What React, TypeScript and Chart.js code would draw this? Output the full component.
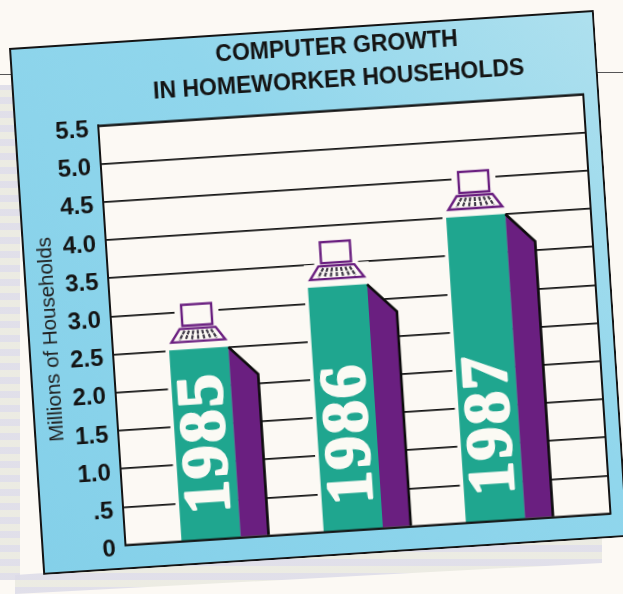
import React, { useEffect, useRef } from "react";
import { Chart, registerables } from "chart.js";

Chart.register(...registerables);

const categories = ["1985", "1986", "1987"];
const households = [2.5, 3.2, 4.0];
const titleLines = ["COMPUTER GROWTH", "IN HOMEWORKER HOUSEHOLDS"];
const yAxisTitle = "Millions of Households";

const TEAL = "#1fa68f";
const PURPLE = "#6a1f80";
const INK = "#141414";
const PAPER = "#fcf9f4";

const barDecor = {
  id: "barDecor",
  beforeDraw(chart: any) {
    const { ctx, width, height, chartArea: a } = chart;
    ctx.save();
    const g = ctx.createLinearGradient(0, height, width, 0);
    g.addColorStop(0, "#84d0e9");
    g.addColorStop(0.6, "#90d6ec");
    g.addColorStop(1, "#aee0ee");
    ctx.fillStyle = g;
    ctx.fillRect(0, 0, width, height);
    ctx.strokeStyle = INK;
    ctx.lineWidth = 2;
    ctx.strokeRect(1, 1, width - 2, height - 2);
    ctx.fillStyle = PAPER;
    ctx.fillRect(a.left, a.top, a.width, a.height);
    ctx.restore();
  },
  beforeDatasetsDraw(chart: any) {
    const { ctx } = chart;
    const bars = chart.getDatasetMeta(0).data;
    ctx.save();
    ctx.fillStyle = PAPER;
    bars.forEach((b: any) => {
      const w = b.width;
      const l = b.x - w / 2;
      ctx.fillRect(l - 4, b.y - 9, w + 4, b.base - b.y + 8);
      ctx.fillRect(l - 3, b.y - 23, w + 6, 16);
      ctx.fillRect(b.x - 22, b.y - 48, 44, 27);
    });
    ctx.restore();
  },
  afterDatasetsDraw(chart: any) {
    const { ctx, chartArea: a } = chart;
    const bars = chart.getDatasetMeta(0).data;
    ctx.save();
    bars.forEach((b: any, i: number) => {
      const w = b.width;
      const r = b.x + w / 2;
      const depth = 28;
      // side face
      ctx.beginPath();
      ctx.moveTo(r, b.y);
      ctx.lineTo(r + depth, b.y + 29);
      ctx.lineTo(r + depth, b.base);
      ctx.lineTo(r, b.base);
      ctx.closePath();
      ctx.fillStyle = PURPLE;
      ctx.fill();
      ctx.beginPath();
      ctx.moveTo(r, b.y);
      ctx.lineTo(r + depth, b.y + 29);
      ctx.lineTo(r + depth, b.base);
      ctx.strokeStyle = "#0c0c0c";
      ctx.lineWidth = 2.6;
      ctx.stroke();

      // computer above the bar
      const cx = b.x;
      const kb = b.y - 8;
      ctx.strokeStyle = PURPLE;
      ctx.lineWidth = 2.4;
      ctx.strokeRect(cx - 15, kb - 37, 30, 21);
      ctx.beginPath();
      ctx.moveTo(cx - 18, kb - 13);
      ctx.lineTo(cx + 18, kb - 13);
      ctx.lineTo(cx + 27, kb);
      ctx.lineTo(cx - 27, kb);
      ctx.closePath();
      ctx.stroke();
      ctx.strokeStyle = "#403a48";
      ctx.lineWidth = 2.2;
      ctx.setLineDash([4, 1]);
      for (let k = -3; k <= 3; k++) {
        ctx.beginPath();
        ctx.moveTo(cx + k * 4.4, kb - 11);
        ctx.lineTo(cx + k * 6.2, kb - 2);
        ctx.stroke();
      }
      ctx.setLineDash([]);

      // year label
      ctx.save();
      ctx.translate(b.x + 1, b.base - 25);
      ctx.rotate(-Math.PI / 2);
      ctx.fillStyle = "#fbfaf4";
      ctx.strokeStyle = "#fbfaf4";
      ctx.lineWidth = 2.5;
      ctx.lineJoin = "round";
      ctx.font = 'bold 66px "Liberation Serif"';
      (ctx as any).letterSpacing = "2.5px";
      ctx.textAlign = "left";
      ctx.textBaseline = "middle";
      ctx.fillText(categories[i], 0, 2);
      ctx.strokeText(categories[i], 0, 2);
      ctx.restore();
    });
    ctx.strokeStyle = INK;
    ctx.lineWidth = 2;
    ctx.strokeRect(a.left, a.top, a.width, a.height);
    ctx.restore();
  },
};

export default function App() {
  const ref = useRef<HTMLCanvasElement>(null);
  useEffect(() => {
    const chart = new Chart(ref.current!, {
      type: "bar",
      data: {
        datasets: [
          {
            data: households.map((v, i) => ({ x: i, y: v })),
            backgroundColor: TEAL,
            barThickness: 59,
            borderWidth: 0,
          },
        ],
      },
      plugins: [barDecor],
      options: {
        animation: false,
        responsive: false,
        devicePixelRatio: 1,
        layout: { padding: { top: 0, right: 16, bottom: 22, left: 0 } },
        plugins: {
          legend: { display: false },
          tooltip: { enabled: false },
          title: {
            display: true,
            text: titleLines,
            fullSize: false,
            color: INK,
            font: { family: '"Liberation Sans"', size: 23, weight: "bold", lineHeight: 1.4 },
            padding: { top: 5, bottom: 14 },
          },
        },
        scales: {
          x: { type: "linear", display: false, offset: false, min: -0.6035, max: 2.807 },
          y: {
            min: 0,
            max: 5.5,
            afterFit: (s: any) => {
              s.width = 84;
            },
            ticks: {
              stepSize: 0.5,
              padding: 10,
              labelOffset: 4,
              color: INK,
              font: { family: '"Liberation Sans"', size: 24, weight: "bold" },
              callback: (v: any) => {
                const n = Number(v);
                if (n === 0) return "0";
                if (n === 0.5) return ".5";
                return n.toFixed(1);
              },
            },
            grid: { color: INK, lineWidth: 1.7, drawTicks: false },
            border: { color: INK, width: 2 },
            title: {
              display: true,
              text: yAxisTitle,
              color: "#222",
              font: { family: '"Liberation Sans"', size: 20.5, weight: "normal", lineHeight: 1.2 },
              padding: { top: 11, bottom: 0 },
            },
          },
        },
      } as any,
    } as any);
    return () => chart.destroy();
  }, []);

  const stripes = "repeating-linear-gradient(0deg, #dcdbe8 0 7px, #e9e9e0 7px 14px)";
  return (
    <div style={{ position: "fixed", inset: 0, overflow: "hidden", background: PAPER }}>
      <div style={{ position: "absolute", left: 0, top: 85, width: 20, height: 495, background: stripes, opacity: 0.85 }} />
      <div
        style={{
          position: "absolute",
          left: 15,
          top: 535,
          width: 587,
          height: 59,
          background: stripes,
          opacity: 0.85,
          clipPath: "polygon(0 40px, 100% 0, 100% 28px, 0 59px)",
        }}
      />
      <div style={{ position: "absolute", left: 0, top: 74, width: 12, height: 1, background: "#555" }} />
      <div style={{ position: "absolute", left: 596, top: 72, width: 27, height: 1, background: "#555" }} />
      <canvas
        ref={ref}
        width={586}
        height={528}
        style={{
          position: "absolute",
          left: 9,
          top: 48,
          width: 586,
          height: 528,
          transformOrigin: "0 0",
          transform: "rotate(-3.72deg)",
        }}
      />
    </div>
  );
}
